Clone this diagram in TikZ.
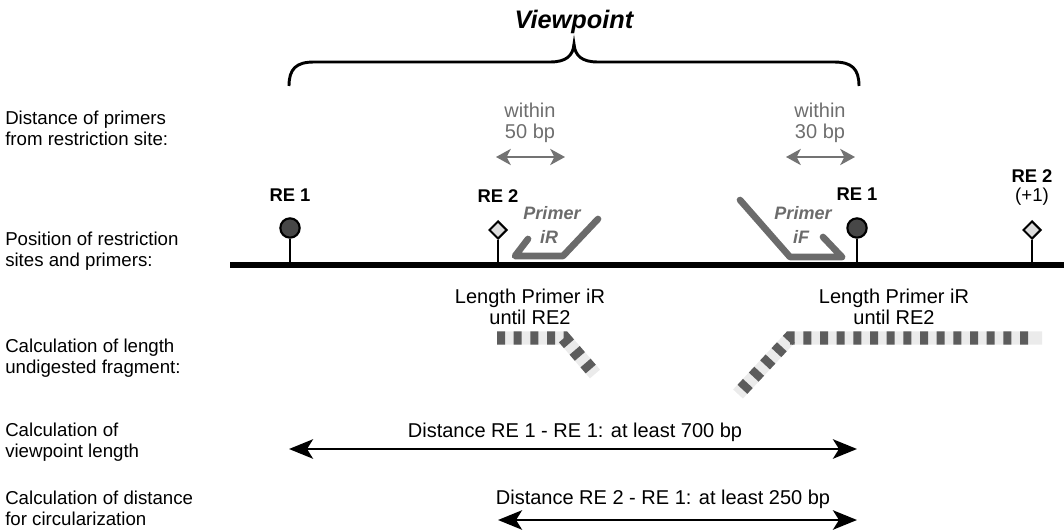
\documentclass[tikz,border=0pt]{standalone}
\usepackage{fontspec}
\setmainfont{Liberation Sans}
\usetikzlibrary{arrows.meta,shapes.geometric}
\definecolor{gtxt}{HTML}{6E6E6E}
\definecolor{garrow}{HTML}{737373}
\definecolor{gprimer}{HTML}{6B6B6B}
\definecolor{gsite}{HTML}{474747}
\definecolor{gdia}{HTML}{DDDDDD}
\definecolor{gband}{HTML}{EBEBEB}
\definecolor{gstripe}{HTML}{5C5C5C}
\tikzset{
  txt/.style={font=\fontsize{14}{15.5}\selectfont, inner sep=0pt},
  mtxt/.style={font=\fontsize{15}{15.5}\selectfont, inner sep=0pt},
  lbl/.style={txt, anchor=west, align=left},
  ctr/.style={mtxt, align=center},
  relbl/.style={txt, font=\fontsize{13.8}{15.5}\selectfont\bfseries},
  primlbl/.style={txt, font=\fontsize{13.5}{15.5}\selectfont\bfseries\itshape, text=gprimer},
  graytxt/.style={ctr, text=gtxt},
  site/.style={circle, draw=black, line width=1.6pt, fill=gsite, minimum width=13.5pt, minimum height=14.5pt, inner sep=0pt},
  dia/.style={diamond, draw=black, line width=1.5pt, fill=gdia, minimum size=13.5pt, inner sep=0pt},
  stem/.style={line width=1.9pt},
  primer/.style={line width=5pt, gprimer, line cap=round, line join=round},
  garr/.style={line width=2.2pt, garrow, {Stealth[length=11pt,width=12pt,inset=3pt]}-{Stealth[length=11pt,width=12pt,inset=3pt]}},
  barr/.style={line width=2.2pt, black, {Stealth[length=18pt,width=14.5pt,inset=4.5pt]}-{Stealth[length=18pt,width=14.5pt,inset=4.5pt]}},
  band/.style={line width=10pt, gband, line join=miter},
  stripes/.style={line width=10pt, gstripe, dash pattern=on 6pt off 6.5pt},
}
\begin{document}
\begin{tikzpicture}[x=0.75pt,y=-0.75pt]
\useasboundingbox (0,0) rectangle (1064,531);

% title and brace
\node[txt, font=\fontsize{19}{22}\selectfont\bfseries\itshape] (vp) at (574,22) {Viewpoint};
\draw[line width=2.2pt] (289,86) .. controls (289,69) and (296,62) .. (314,62) -- (550,62)
  .. controls (566,62) and (573,56) .. (574,44) .. controls (575,56) and (582,62) .. (598,62)
  -- (834,62) .. controls (852,62) and (859,69) .. (859,86);

% left labels
\node[lbl] (l1) at (5,128) {Distance of primers\\from restriction site:};
\node[lbl] (l2) at (5,251) {Position of restriction\\sites and primers:};
\node[lbl] (l3) at (5,358) {Calculation of length\\undigested fragment:};
\node[lbl] (l4) at (5,442) {Calculation of\\viewpoint length};
\node[lbl] (l5) at (5,508) {Calculation of distance\\for circularization};

% within labels and gray arrows
\node[graytxt] (w1) at (530,123) {within\\50 bp};
\node[graytxt] (w2) at (820,123) {within\\30 bp};
\coordinate (w1a) at (496,157); \coordinate (w1b) at (565,157);
\coordinate (w2a) at (786,157); \coordinate (w2b) at (855,157);
\draw[garr] (w1a) -- (w1b);
\draw[garr] (w2a) -- (w2b);

% main line
\coordinate (mL) at (230,265); \coordinate (mR) at (1064,265);
\draw[line width=4.5pt] (mL) -- (mR);

% restriction sites
\node[site] (s1) at (290,228) {};
\node[dia] (s2) at (498,230) {};
\node[site] (s3) at (857,228) {};
\node[dia] (s4) at (1032,230) {};
\coordinate (b1) at (290,265); \coordinate (b2) at (498,265);
\coordinate (b3) at (857,265); \coordinate (b4) at (1032,265);
\draw[stem] (s1.south) -- (b1);
\draw[stem] (s2.south) -- (b2);
\draw[stem] (s3.south) -- (b3);
\draw[stem] (s4.south) -- (b4);
\node[relbl] (r1) at (290,195) {RE 1};
\node[relbl] (r2) at (498,196) {RE 2};
\node[relbl] (r3) at (857,194) {RE 1};
\node[relbl] (r4) at (1032,176) {RE 2};
\node[txt] (r4b) at (1032,197) {(+1)};

% primers
\draw[primer] (528,239) -- (515,256) -- (563,256) -- (598,219);
\node[primlbl] (p1) at (552,213) {Primer};
\node[primlbl] (p1b) at (549,237) {iR};
\draw[primer] (740,200) -- (790,257) -- (842,257) -- (823,237);
\node[primlbl] (p2) at (803,213) {Primer};
\node[primlbl] (p2b) at (801,237) {iF};

% length labels
\node[ctr] (len1) at (530,307) {Length Primer iR\\until RE2};
\node[ctr] (len2) at (894,307) {Length Primer iR\\until RE2};

% hatched fragments
\draw[band] (497,338) -- (564,338) -- (595,374);
\draw[stripes] (497,338) -- (564,338) -- (595,374);
\draw[band] (1042,338) -- (790,338) -- (738,394);
\draw[stripes, dash phase=-3pt] (1032,338) -- (790,338) -- (739,393);

% distance arrows
\coordinate (d1a) at (289,449); \coordinate (d1b) at (857,449);
\draw[barr] (d1a) -- (d1b);
\node[mtxt] (d1t) at (575,432) {Distance RE 1 - RE 1: at least 700 bp};
\coordinate (d2a) at (498,520); \coordinate (d2b) at (857,520);
\draw[barr] (d2a) -- (d2b);
\node[mtxt] (d2t) at (663,499) {Distance RE 2 - RE 1: at least 250 bp};
\end{tikzpicture}
\end{document}
